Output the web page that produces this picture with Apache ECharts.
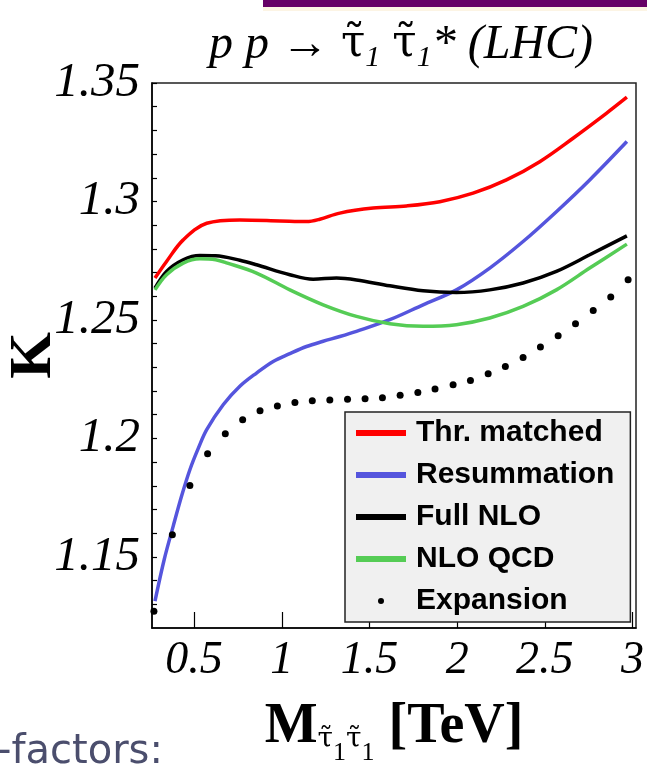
<!DOCTYPE html>
<html>
<head>
<meta charset="utf-8">
<script src="https://cdn.jsdelivr.net/npm/echarts@6/dist/echarts.min.js"></script>
<style>
html,body{margin:0;padding:0;background:#fff;}
#chart{width:647px;height:773px;}
</style>
</head>
<body>
<div id="chart"></div>
<script>
// ---- data ----
const xTickLabels = [0.5, 1, 1.5, 2, 2.5, 3];
const yTickLabels = [1.15, 1.2, 1.25, 1.3, 1.35];
const yMinorTicks = [1.13,1.14,1.15,1.16,1.17,1.18,1.19,1.2,1.21,1.22,1.23,1.24,1.25,1.26,1.27,1.28,1.29,1.3,1.31,1.32,1.33,1.34,1.35];

const thrX = [0.277,0.343,0.438,0.572,0.761,0.989,1.141,1.217,1.331,1.521,1.711,1.901,2.091,2.281,2.471,2.661,2.851,2.968];
const thrY = [1.2677,1.2747,1.2838,1.2908,1.2922,1.2918,1.2915,1.2925,1.2951,1.2972,1.2981,1.2999,1.3035,1.3091,1.3168,1.3267,1.3372,1.3440];

const resX = [0.277,0.330,0.381,0.430,0.477,0.525,0.572,0.667,0.761,0.856,0.951,1.046,1.141,1.236,1.331,1.426,1.616,1.806,1.996,2.186,2.376,2.566,2.756,2.968];
const resY = [1.1313,1.1490,1.1630,1.1760,1.1870,1.1960,1.2037,1.2143,1.2220,1.2276,1.2325,1.2358,1.2388,1.2410,1.2430,1.2452,1.2501,1.2564,1.2627,1.2719,1.2831,1.2957,1.3091,1.3253];

const fullX = [0.277,0.343,0.438,0.533,0.623,0.761,0.856,1.046,1.179,1.312,1.426,1.616,1.806,1.996,2.186,2.376,2.566,2.756,2.968];
const fullY = [1.2634,1.2705,1.2754,1.2772,1.2771,1.2752,1.2733,1.2691,1.2672,1.2677,1.2669,1.2644,1.2623,1.2616,1.2627,1.2656,1.2705,1.2775,1.2855];

const qcdX = [0.277,0.343,0.438,0.533,0.623,0.690,0.856,1.046,1.236,1.426,1.616,1.806,1.996,2.186,2.376,2.566,2.756,2.968];
const qcdY = [1.2627,1.2691,1.2740,1.2758,1.2754,1.2740,1.2698,1.2627,1.2564,1.2515,1.2484,1.2473,1.2480,1.2508,1.2557,1.2627,1.2719,1.2820];

const expX = [0.271,0.376,0.476,0.577,0.678,0.777,0.876,0.975,1.075,1.174,1.274,1.375,1.475,1.574,1.675,1.776,1.874,1.977,2.076,2.177,2.275,2.376,2.475,2.576,2.675,2.776,2.876,2.975];
const expY = [1.1271,1.1594,1.1801,1.1935,1.2020,1.2079,1.2117,1.2137,1.2152,1.2159,1.2162,1.2165,1.2168,1.2172,1.2182,1.2194,1.2209,1.2227,1.2245,1.2273,1.2304,1.2342,1.2386,1.2433,1.2484,1.2540,1.2597,1.2670];

const seriesNames = ['Thr. matched', 'Resummation', 'Full NLO', 'NLO QCD', 'Expansion'];
const seriesColors = ['#ff0000', '#5555dd', '#000000', '#55cc55', '#000000'];

const zip = (xs, ys) => xs.map((x, i) => [x, ys[i]]);

const chart = echarts.init(document.getElementById('chart'), null, {renderer: 'canvas'});

const serif = '"Liberation Serif", "Times New Roman", serif';
const dserif = '"DejaVu Serif", serif';
const sans = '"Liberation Sans", Arial, sans-serif';

function lineSeries(name, color, data) {
  return {
    name: name, type: 'line', data: data, smooth: 0.35,
    showSymbol: false, symbol: 'none',
    lineStyle: {color: color, width: 3.5},
    itemStyle: {color: color},
    z: 3
  };
}

chart.setOption({
  animation: false,
  backgroundColor: '#ffffff',
  title: {
    text: '{a|p p → }{t|τ̃}{s|1}{a| }{t|τ̃}{s|1}{a|* (LHC)}',
    left: 396, top: 12, textAlign: 'center',
    textStyle: {
      fontWeight: 'normal',
      rich: {
        a: {fontFamily: serif, fontStyle: 'italic', fontWeight: 'normal', fontSize: 48, color: '#000'},
        t: {fontFamily: dserif, fontStyle: 'normal', fontWeight: 'normal', fontSize: 44, color: '#000'},
        s: {fontFamily: serif, fontStyle: 'italic', fontWeight: 'normal', fontSize: 30, color: '#000', padding: [26, 0, 0, 0]}
      }
    }
  },
  grid: {left: 152, right: 11, top: 83, bottom: 145, outerBoundsMode: 'none', containLabel: false,
    show: true, borderColor: '#222', borderWidth: 1.5, backgroundColor: 'transparent'},
  legend: {
    orient: 'vertical', left: 345, top: 412,
    itemWidth: 50, itemHeight: 6, itemGap: 12,
    backgroundColor: '#f0f0f0', borderColor: '#222', borderWidth: 1.5,
    padding: [6, 16, 6, 11],
    textStyle: {fontFamily: sans, fontWeight: 'bold', fontSize: 30, color: '#000', padding: [0, 0, 0, 5]},
    data: seriesNames.map((n, i) => ({name: n, icon: i === 4 ? 'circle' : 'rect', itemStyle: {color: seriesColors[i]}}))
  },
  xAxis: {
    type: 'value', min: 0.26, max: 3.02,
    axisLine: {show: true, lineStyle: {color: '#000', width: 1.5}},
    axisTick: {show: true, inside: true, length: 16, customValues: xTickLabels, lineStyle: {color: '#000', width: 1.2}},
    axisLabel: {customValues: xTickLabels, fontFamily: serif, fontStyle: 'italic', fontSize: 46, color: '#000', margin: 10,
      formatter: v => String(v)},
    splitLine: {show: false},
    name: '{m|M}{t|τ̃}{o|1}{t|τ̃}{o|1}{m| [TeV]}',
    nameLocation: 'middle', nameGap: 62, nameMoveOverlap: false,
    nameTextStyle: {
      rich: {
        m: {fontFamily: serif, fontWeight: 'bold', fontSize: 56, color: '#000'},
        t: {fontFamily: dserif, fontSize: 28, color: '#000', padding: [24, 0, 0, 0]},
        o: {fontFamily: serif, fontSize: 26, color: '#000', padding: [50, 0, 0, 0]}
      }
    }
  },
  yAxis: {
    type: 'value', min: 1.12, max: 1.35,
    axisLine: {show: true, lineStyle: {color: '#000', width: 1.5}},
    axisTick: {show: true, inside: true, length: 5, customValues: yMinorTicks, lineStyle: {color: '#000', width: 1.2}},
    axisLabel: {customValues: yTickLabels, fontFamily: serif, fontStyle: 'italic', fontSize: 49, color: '#000', margin: 12,
      padding: [8, 0, 0, 0], formatter: v => String(v)},
    splitLine: {show: false},
    name: 'K', nameLocation: 'middle', nameRotate: 90, nameGap: 88, nameMoveOverlap: false,
    nameTextStyle: {fontFamily: serif, fontWeight: 'bold', fontSize: 60, color: '#000'}
  },
  series: [
    lineSeries(seriesNames[0], seriesColors[0], zip(thrX, thrY)),
    lineSeries(seriesNames[1], seriesColors[1], zip(resX, resY)),
    lineSeries(seriesNames[2], seriesColors[2], zip(fullX, fullY)),
    lineSeries(seriesNames[3], seriesColors[3], zip(qcdX, qcdY)),
    {name: seriesNames[4], type: 'scatter', data: zip(expX, expY), symbolSize: 7, itemStyle: {color: '#000', opacity: 1}, z: 4}
  ],
  graphic: [
    {type: 'rect', left: 263, top: 0, shape: {width: 384, height: 7}, style: {fill: '#660066'}, z: 10},
    {type: 'rect', left: 263, top: 7, shape: {width: 384, height: 4}, style: {fill: '#fcf4e4'}, z: 10},
    {type: 'text', left: -3, top: 733, style: {text: '-factors:', fontFamily: '"DejaVu Sans", sans-serif', fontSize: 40, fill: '#4b4e6d'}, z: 10}
  ]
});
</script>
</body>
</html>
